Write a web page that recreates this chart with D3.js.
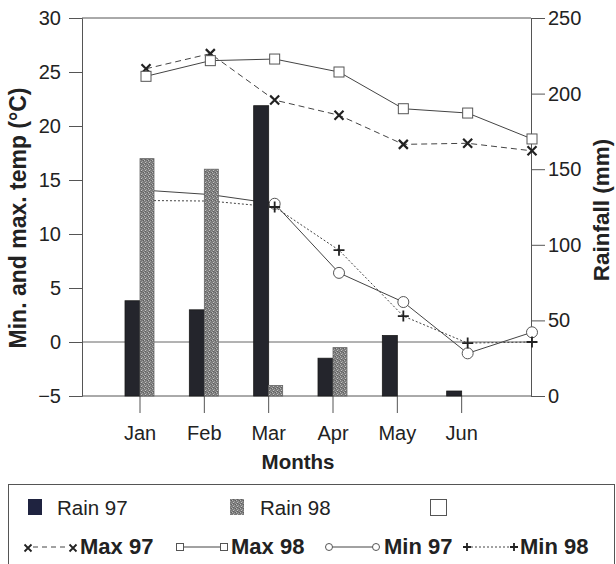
<!DOCTYPE html>
<html><head><meta charset="utf-8">
<script src="https://cdn.jsdelivr.net/npm/d3@7"></script>
<style>body{margin:0;background:#fff}svg{display:block;font-family:"Liberation Sans",Arial,sans-serif}</style>
</head><body><svg id="c" width="616" height="564"></svg>
<script>
const months = ["Jan","Feb","Mar","Apr","May","Jun",""];
const rain97 = [63, 57, 192, 25, 40, 3.3, null];
const rain98 = [157, 150, 7, 32, null, null, null];
const max97 = [25.3, 26.7, 22.4, 21.0, 18.3, 18.4, 17.7];
const max98 = [24.6, 26.05, 26.2, 25.0, 21.6, 21.2, 18.8];
const min97 = [14.05, 13.65, 12.8, 6.4, 3.7, -1.05, 0.9];
const min98 = [13.1, 13.05, 12.5, 8.5, 2.4, -0.1, 0.0];
const tempTicks = [-5, 0, 5, 10, 15, 20, 25, 30];
const rainTicks = [0, 50, 100, 150, 200, 250];

const svg = d3.select("#c");
const L = 82, R = 531, T = 18, B = 396;

const x = d3.scalePoint().domain(d3.range(months.length)).range([146, 532]);
const tickOff = -6;
const yT = d3.scaleLinear().domain([-5, 30]).range([B, T]);
const yR = d3.scaleLinear().domain([0, 250]).range([B, T]);

// pattern for Rain 98
const defs = svg.append("defs");
const pat = defs.append("pattern").attr("id","stip").attr("patternUnits","userSpaceOnUse").attr("width",4).attr("height",4);
pat.append("rect").attr("width",4).attr("height",4).attr("fill","#7b7b7b");
[[0,0,"#b8b8b8"],[2,1,"#a0a0a0"],[1,2,"#c4c4c4"],[3,3,"#9a9a9a"],[3,0,"#5e5e5e"],[1,3,"#606060"]].forEach(([a,b,c])=>pat.append("rect").attr("x",a).attr("y",b).attr("width",1).attr("height",1).attr("fill",c));

// frame
svg.append("line").attr("x1",L).attr("x2",R).attr("y1",T).attr("y2",T).attr("stroke","#555").attr("stroke-width",1);
// zero line
svg.append("line").attr("x1",L).attr("x2",R).attr("y1",yT(0)).attr("y2",yT(0)).attr("stroke","#666").attr("stroke-width",1);

// left axis
const axL = svg.append("g").attr("transform",`translate(${L},0)`)
  .call(d3.axisLeft(yT).tickValues(tempTicks).tickSize(13).tickPadding(8).tickFormat(d=>d<0?"\u2212"+Math.abs(d):d));
axL.select(".domain").attr("stroke","#555");
axL.selectAll(".tick line").attr("stroke","#555");
axL.selectAll("text").attr("font-size",20).attr("fill","#222").attr("font-family","Liberation Sans, Arial");

// right axis
const axR = svg.append("g").attr("transform",`translate(${R},0)`)
  .call(d3.axisRight(yR).tickValues(rainTicks).tickSize(14).tickPadding(3));
axR.select(".domain").attr("stroke","#555");
axR.selectAll(".tick line").attr("stroke","#555");
axR.selectAll("text").attr("font-size",20).attr("fill","#222").attr("font-family","Liberation Sans, Arial");

// bottom axis
svg.append("line").attr("x1",L).attr("x2",R).attr("y1",B).attr("y2",B).attr("stroke","#555");
const lab = months.slice(0,6);
const bx = svg.append("g");
bx.selectAll("line").data(lab).join("line")
  .attr("x1",(d,i)=>x(i)+tickOff).attr("x2",(d,i)=>x(i)+tickOff).attr("y1",B).attr("y2",B+17).attr("stroke","#555");
bx.selectAll("text").data(lab).join("text")
  .attr("x",(d,i)=>x(i)+tickOff).attr("y",440).attr("text-anchor","middle").attr("font-size",20).attr("fill","#222").text(d=>d);

svg.append("text").attr("x",298).attr("y",469).attr("text-anchor","middle").attr("font-size",20.5).attr("font-weight","bold").attr("fill","#222").text("Months");
svg.append("text").attr("transform","translate(26,218) rotate(-90)").attr("text-anchor","middle").attr("font-size",23).attr("font-weight","bold").attr("fill","#222").text("Min. and max. temp (°C)");
svg.append("text").attr("transform","translate(609,210) rotate(-90)").attr("text-anchor","middle").attr("font-size",22.5).attr("font-weight","bold").attr("fill","#222").text("Rainfall (mm)");

// lines
function series(data, dash){
  const line = d3.line().defined(d=>d!=null).x((d,i)=>x(i)).y(d=>yT(d));
  svg.append("path").datum(data).attr("d",line).attr("fill","none").attr("stroke","#444").attr("stroke-width",1).attr("stroke-dasharray",dash);
}
series(max97, "6,4");
series(max98, null);
series(min97, null);
series(min98, "2,2");

function xMark(g, cx, cy, s, w){
  g.append("path").attr("d",`M${cx-s},${cy-s}L${cx+s},${cy+s}M${cx+s},${cy-s}L${cx-s},${cy+s}`).attr("stroke","#222").attr("stroke-width",w||2.2);
}
function plusMark(g, cx, cy, s){
  g.append("path").attr("d",`M${cx-s},${cy}L${cx+s},${cy}M${cx},${cy-s}L${cx},${cy+s}`).attr("stroke","#222").attr("stroke-width",1.8);
}
const mk = svg.append("g");
max97.forEach((v,i)=>xMark(mk, x(i), yT(v), 4.5));
mk.selectAll(".sq").data(max98).join("rect").attr("class","sq")
  .attr("x",(d,i)=>x(i)-5).attr("y",d=>yT(d)-5).attr("width",10).attr("height",10).attr("fill","#fff").attr("stroke","#555");
mk.selectAll(".ci").data(min97).join("circle").attr("class","ci")
  .attr("cx",(d,i)=>x(i)).attr("cy",d=>yT(d)).attr("r",5.5).attr("fill","#fff").attr("stroke","#555");
min98.forEach((v,i)=>plusMark(mk, x(i), yT(v), 5.5));

// bars (drawn over lines)
const bw = 15;
svg.append("g").selectAll("rect").data(rain97.map((v,i)=>({v,i})).filter(d=>d.v!=null)).join("rect")
  .attr("x",d=>x(d.i)+tickOff-bw).attr("y",d=>yR(d.v)).attr("width",bw).attr("height",d=>B-yR(d.v))
  .attr("fill","#24252c").attr("stroke","#1a1a1a").attr("stroke-width",0.8);
svg.append("g").selectAll("rect").data(rain98.map((v,i)=>({v,i})).filter(d=>d.v!=null)).join("rect")
  .attr("x",d=>x(d.i)+tickOff).attr("y",d=>yR(d.v)).attr("width",14).attr("height",d=>B-yR(d.v))
  .attr("fill","url(#stip)").attr("stroke","#666").attr("stroke-width",0.8);

// legend
const lg = svg.append("g");
lg.append("rect").attr("x",8.5).attr("y",484.5).attr("width",606).attr("height",100).attr("fill","none").attr("stroke","#555");
lg.append("rect").attr("x",28).attr("y",499).attr("width",14).attr("height",16).attr("fill","#1f2340");
lg.append("text").attr("x",57).attr("y",515).attr("font-size",20.5).attr("fill","#222").text("Rain 97");
lg.append("rect").attr("x",230).attr("y",499).attr("width",14).attr("height",16).attr("fill","url(#stip)");
lg.append("text").attr("x",260).attr("y",515).attr("font-size",20.5).attr("fill","#222").text("Rain 98");
lg.append("rect").attr("x",430.5).attr("y",499.5).attr("width",16).attr("height",16).attr("fill","#fff").attr("stroke","#555");

const ry = 547;
const tb = 554;
// Max 97
lg.append("line").attr("x1",33).attr("x2",69).attr("y1",ry).attr("y2",ry).attr("stroke","#444").attr("stroke-dasharray","5,4");
xMark(lg, 28, ry+1, 3.5, 1.8); xMark(lg, 73, ry+1, 3.5, 1.8);
lg.append("text").attr("x",80).attr("y",tb).attr("font-size",22).attr("font-weight","bold").attr("fill","#222").text("Max 97");
// Max 98
lg.append("line").attr("x1",183).attr("x2",221).attr("y1",ry).attr("y2",ry).attr("stroke","#444");
[180,224].forEach(cx=>lg.append("rect").attr("x",cx-3.5).attr("y",ry-3.5).attr("width",7).attr("height",7).attr("fill","#fff").attr("stroke","#555"));
lg.append("text").attr("x",231).attr("y",tb).attr("font-size",22).attr("font-weight","bold").attr("fill","#222").text("Max 98");
// Min 97
lg.append("line").attr("x1",332).attr("x2",373).attr("y1",ry).attr("y2",ry).attr("stroke","#444");
[329,376].forEach(cx=>lg.append("circle").attr("cx",cx).attr("cy",ry).attr("r",3.5).attr("fill","#fff").attr("stroke","#555"));
lg.append("text").attr("x",384).attr("y",tb).attr("font-size",22).attr("font-weight","bold").attr("fill","#222").text("Min 97");
// Min 98
lg.append("line").attr("x1",471).attr("x2",510).attr("y1",ry).attr("y2",ry).attr("stroke","#444").attr("stroke-dasharray","2,2");
plusMark(lg, 467, ry, 4); plusMark(lg, 514, ry, 4);
lg.append("text").attr("x",520).attr("y",tb).attr("font-size",22).attr("font-weight","bold").attr("fill","#222").text("Min 98");
</script></body></html>
